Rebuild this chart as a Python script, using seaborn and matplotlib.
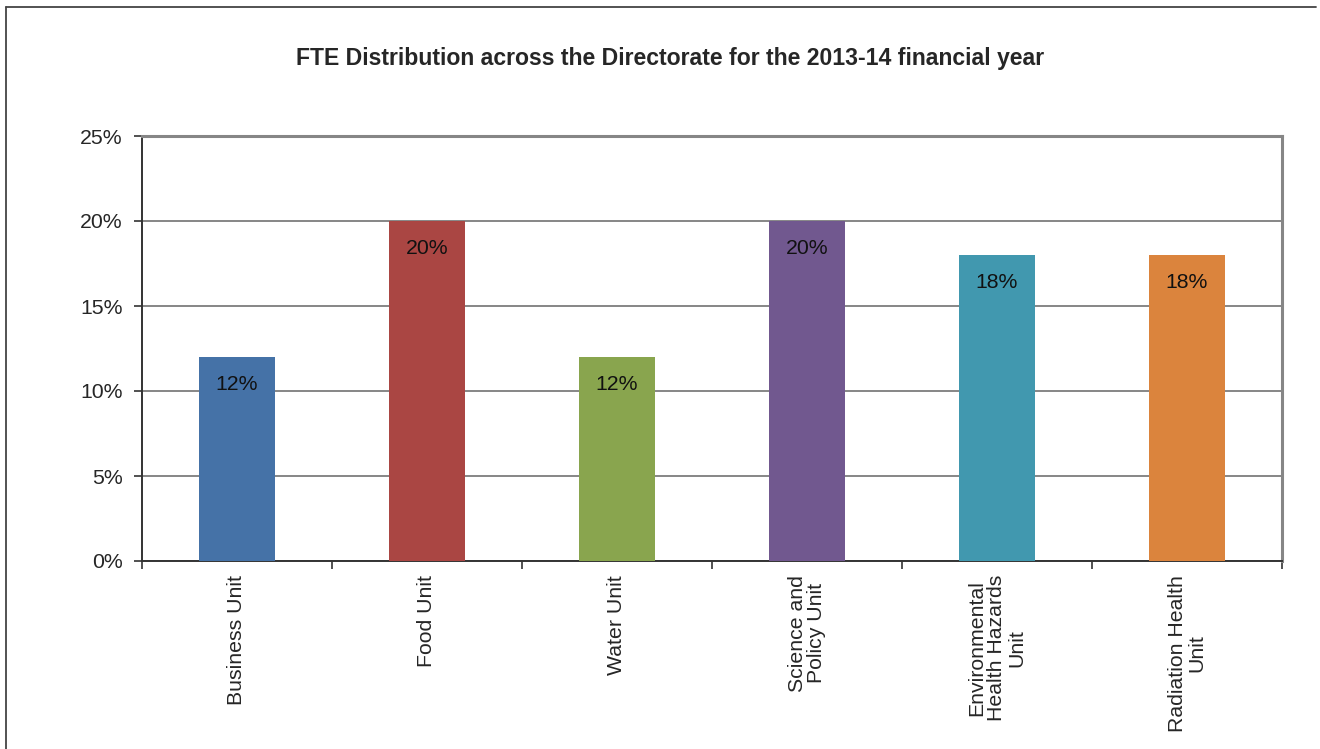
import matplotlib
matplotlib.use("Agg")
import matplotlib.pyplot as plt
import seaborn as sns
import pandas as pd
from matplotlib.lines import Line2D
from matplotlib.ticker import FixedLocator, PercentFormatter

categories = ["Business Unit", "Food Unit", "Water Unit", "Science and\nPolicy Unit",
              "Environmental\nHealth Hazards\nUnit", "Radiation Health\nUnit"]
values = [12, 20, 12, 20, 18, 18]
labels = ["12%", "20%", "12%", "20%", "18%", "18%"]
colors = ["#4572A7", "#AA4643", "#89A54E", "#71588F", "#4198AF", "#DB843D"]
yticks = [0, 5, 10, 15, 20, 25]
title = "FTE Distribution across the Directorate for the 2013-14 financial year"

sns.set_style("white")
plt.rcParams['font.family'] = ['Liberation Sans', 'DejaVu Sans']

df = pd.DataFrame({"cat": categories, "val": values})

fig = plt.figure(figsize=(13.2, 7.49), dpi=100)
ax = fig.add_axes([142/1320, 1-561/749, (1282-142)/1320, (561-136)/749])

sns.barplot(data=df, x="cat", y="val", hue="cat", palette=colors, legend=False,
            width=0.4, saturation=1, linewidth=0, ax=ax, zorder=3)

ax.set_ylim(0, 25)
ax.set_xlim(-0.5, len(categories) - 0.5)
ax.set_yticks(yticks)
ax.yaxis.set_major_formatter(PercentFormatter(decimals=0))
ax.grid(axis="y", color="#868686", linewidth=1.4, zorder=0)
ax.set_axisbelow(True)
ax.set_xlabel("")
ax.set_ylabel("")

for s in ["left", "bottom"]:
    ax.spines[s].set_color("#333333")
    ax.spines[s].set_linewidth(1.4)
for s in ["top", "right"]:
    ax.spines[s].set_color("#868686")
    ax.spines[s].set_linewidth(2.2)

fs = 15.3
ax.tick_params(axis="y", which="major", direction="out", length=6, width=1.2,
               color="#333333", labelsize=fs, pad=8, left=True)
ax.tick_params(axis="x", which="major", length=0, labelsize=fs, pad=10,
               labelrotation=90)
ax.xaxis.set_minor_locator(FixedLocator([i - 0.5 for i in range(len(categories) + 1)]))
ax.tick_params(axis="x", which="minor", direction="out", length=6, width=1.2,
               color="#333333", bottom=True)
for t in ax.get_xticklabels():
    t.set_horizontalalignment("center")
    t.set_verticalalignment("top")
    t.set_multialignment("center")
    t.set_linespacing(1.05)

for i, (v, lab) in enumerate(zip(values, labels)):
    ax.annotate(lab, (i, v), xytext=(0, -27), textcoords="offset pixels",
                ha="center", va="center", fontsize=fs, color="#111111", zorder=4)

fig.text(670/1320, 1 - 58/749, title, ha="center", va="center", fontsize=16.6, fontweight="bold")

fig.add_artist(Line2D([6/1320, 1316/1320], [1 - 7/749, 1 - 7/749], transform=fig.transFigure,
                      color="#444444", linewidth=1.3))
fig.add_artist(Line2D([6/1320, 6/1320], [1 - 7/749, 0], transform=fig.transFigure,
                      color="#444444", linewidth=1.3))

fig.savefig("out.png", dpi=100)
